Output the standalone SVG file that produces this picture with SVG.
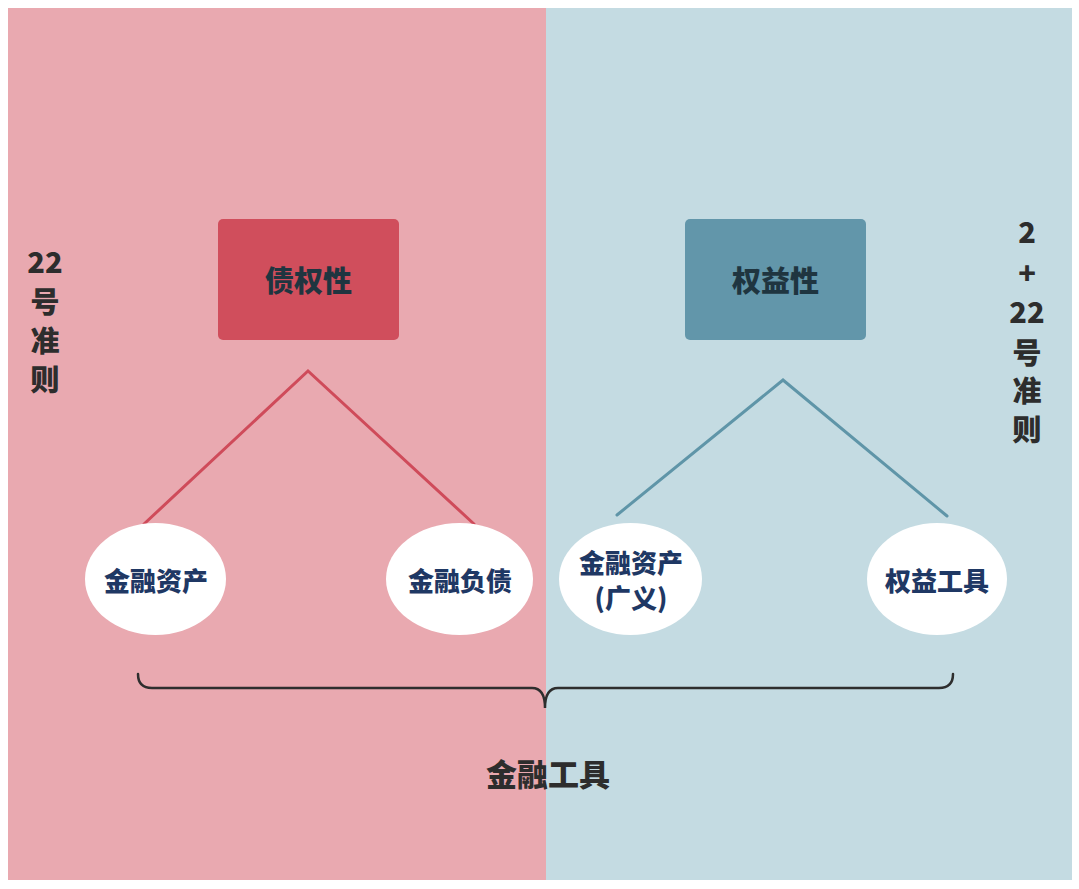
<svg xmlns="http://www.w3.org/2000/svg" width="1079" height="889" viewBox="0 0 1079 889">
<style>
text{font-family:"Noto Sans CJK SC","Noto Sans",sans-serif;font-weight:900;text-anchor:middle}
.side{font-size:29px;fill:#2d2d2d}
.head{font-size:29px;fill:#1f3540}
.leaf{font-size:26px;fill:#1f3864}
.oval{fill:#ffffff}
</style>
<rect x="0" y="0" width="1079" height="889" fill="#ffffff"/>
<rect x="8" y="8" width="538" height="872" fill="#e9a9b0"/>
<rect x="546" y="8" width="526" height="872" fill="#c4dbe2"/>
<g id="connectors" fill="none" stroke-width="3" stroke-linecap="round">
<path d="M144 524 L308 371 L474 524" stroke="#cf4b5a"/>
<path d="M617 515 L783 380 L947 516" stroke="#5f95a8"/>
<path d="M138 674 Q138 688 152 688 L532 688 Q545 688 545 708 Q545 688 558 688 L939 688 Q953 688 953 674" stroke="#2e2e2e" stroke-width="2.5"/>
</g>
<g id="left-label"><text class="side" x="45" y="273">22</text><text class="side" x="45" y="313">号</text><text class="side" x="45" y="352">准</text><text class="side" x="45" y="391">则</text></g>
<g id="right-label"><text class="side" x="1027" y="243">2</text><text class="side" x="1027" y="284">+</text><text class="side" x="1027" y="323">22</text><text class="side" x="1027" y="364">号</text><text class="side" x="1027" y="402">准</text><text class="side" x="1027" y="441">则</text></g>
<g id="debt"><rect x="218" y="219" width="181" height="121" rx="5" fill="#d04e5c"/><text class="head" x="308.5" y="292">债权性</text></g>
<g id="equity"><rect x="685" y="219" width="181" height="121" rx="5" fill="#6296aa"/><text class="head" x="775.5" y="292">权益性</text></g>
<g id="fin-asset"><ellipse class="oval" cx="155.5" cy="579" rx="70.5" ry="56"/><text class="leaf" x="156" y="591">金融资产</text></g>
<g id="fin-liab"><ellipse class="oval" cx="459.5" cy="579" rx="73.5" ry="56"/><text class="leaf" x="460" y="591">金融负债</text></g>
<g id="fin-asset-broad"><ellipse class="oval" cx="630.5" cy="579" rx="71.5" ry="56"/><text class="leaf" x="631" y="573">金融资产</text><text class="leaf" x="631" y="608">(广义)</text></g>
<g id="equity-inst"><ellipse class="oval" cx="937" cy="579" rx="70" ry="56"/><text class="leaf" x="937" y="591">权益工具</text></g>
<g id="fin-inst"><text x="548" y="786" style="font-size:31px;fill:#2d2d2d">金融工具</text></g>
</svg>
